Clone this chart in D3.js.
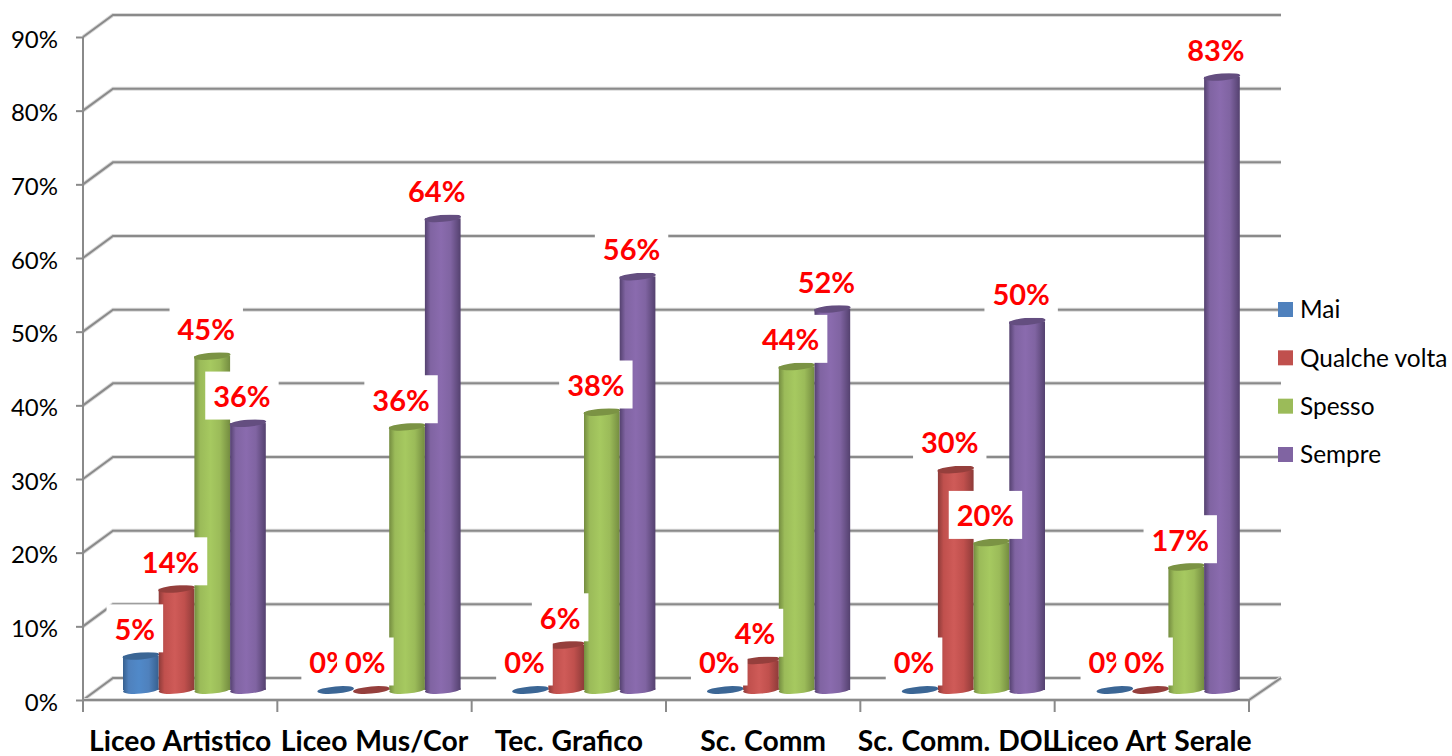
<!DOCTYPE html>
<html><head><meta charset="utf-8">
<script src="https://cdn.jsdelivr.net/npm/d3@7"></script>
<style>html,body{margin:0;padding:0;background:#fff}svg{display:block}text{font-family:Lato,"Noto Sans",sans-serif}</style>
</head><body><svg id="c" width="1452" height="756"></svg>
<script>
const categories = ["Liceo Artistico","Liceo Mus/Cor","Tec. Grafico","Sc. Comm","Sc. Comm. DOL","Liceo Art Serale"];
const seriesNames = ["Mai","Qualche volta","Spesso","Sempre"];
const mai = [4.5,0,0,0,0,0];
const qualcheVolta = [13.6,0,6.0,3.9,29.8,0];
const spesso = [45.2,35.6,37.6,43.8,19.9,16.6];
const sempre = [36.1,63.9,56.0,51.6,49.9,83.1];
const labelsMai = ["5%","0%","0%","0%","0%","0%"];
const labelsQualche = ["14%","0%","6%","4%","30%","0%"];
const labelsSpesso = ["45%","36%","38%","44%","20%","17%"];
const labelsSempre = ["36%","64%","56%","52%","50%","83%"];
const yTicks = [0,10,20,30,40,50,60,70,80,90];
const colors = ["#4f81bd","#c0504d","#9bbb59","#8064a2"];
const edge = ["#37608f","#8e3b39","#748c40","#54416f"];
const mid = ["#5089c9","#cf5b58","#a6c960","#8a6bae"];
const capCol = ["#3b6695","#953f3c","#7b9344","#644e80"];

const svg = d3.select("#c");
const series = [mai,qualcheVolta,spesso,sempre];
const seriesLabels = [labelsMai,labelsQualche,labelsSpesso,labelsSempre];
const x0 = 83, x1 = 1249, yBase = 700, yTop90 = 37, dx = 30, dy = -22;
const y = d3.scaleLinear().domain([0,90]).range([yBase,yTop90]);
const xCat = d3.scaleBand().domain(categories).range([x0,x1]);
const xBar = d3.scaleBand().domain(categories).range([x0,1251.8]);
const xSer = d3.scaleBand().domain(seriesNames).range([40,182.8]);

const defs = svg.append("defs");
colors.forEach((c,i)=>{
  const g = defs.append("linearGradient").attr("id","g"+i).attr("x1",0).attr("x2",1).attr("y1",0).attr("y2",0);
  [[0,edge[i]],[0.16,colors[i]],[0.45,mid[i]],[0.72,colors[i]],[1,edge[i]]].forEach(s=>g.append("stop").attr("offset",s[0]).attr("stop-color",s[1]));
});

const grid = svg.append("g");
const gridCol = "#8a8a8a";
function wallLine(pts){
  const l = d3.line();
  grid.append("path").attr("d",l(pts)).attr("fill","none").attr("stroke","#d9d9d9").attr("stroke-width",4);
  grid.append("path").attr("d",l(pts)).attr("fill","none").attr("stroke",gridCol).attr("stroke-width",2);
}
yTicks.forEach(t=>{
  wallLine([[x0,y(t)],[x0+dx,y(t)+dy],[x1+32,y(t)+dy]]);
});
wallLine([[x1,yBase],[x1+32,yBase+dy]]);
wallLine([[x0,yBase],[x1,yBase]]);

const axisY = d3.axisLeft(y).tickValues(yTicks).tickSize(7).tickPadding(18).tickFormat(d=>d+"%");
const gy = svg.append("g").attr("transform",`translate(${x0},0)`).call(axisY);
gy.selectAll("line").attr("stroke",gridCol).attr("stroke-width",2);
gy.select(".domain").remove();
gy.selectAll("text").attr("font-size",24).attr("fill","#000").attr("dy","0.42em").style("font-family","Lato");
svg.append("line").attr("x1",x0).attr("x2",x0).attr("y1",yTop90).attr("y2",712).attr("stroke",gridCol).attr("stroke-width",2);
const tickXs = categories.map(c=>xCat(c)).concat([x1]);
svg.append("g").selectAll("line").data(tickXs).join("line")
  .attr("x1",d=>d).attr("x2",d=>d).attr("y1",yBase).attr("y2",712).attr("stroke",gridCol).attr("stroke-width",2);

svg.append("g").selectAll("text").data(categories).join("text")
  .attr("x",d=>xCat(d)+xCat.bandwidth()/2).attr("y",750.5)
  .attr("text-anchor","middle").attr("font-weight",700).attr("font-size",28.3).attr("fill","#000")
  .attr("word-spacing",1).text(d=>d);

const bars = svg.append("g");
seriesNames.forEach((name,i)=>{
  categories.forEach((cat,j)=>{
    const v = series[i][j];
    const bx = xBar(cat)+xSer(name), w = xSer.bandwidth();
    const cx = bx+w/2, base = y(0)-10, top = v>0 ? y(v)-11 : base;
    const rot = c => `rotate(-5 ${cx} ${c})`;
    if(v>0){
      bars.append("ellipse").attr("cx",cx).attr("cy",base).attr("rx",w/2).attr("ry",3.6).attr("fill",`url(#g${i})`).attr("transform",rot(base));
      bars.append("rect").attr("x",bx).attr("y",top).attr("width",w).attr("height",base-top).attr("fill",`url(#g${i})`);
    }
    bars.append("ellipse").attr("cx",cx).attr("cy",top).attr("rx",w/2+0.5).attr("ry",3.6).attr("fill",capCol[i]).attr("transform",rot(top));
  });
});

const lab = svg.append("g");
seriesNames.forEach((name,i)=>{
  categories.forEach((cat,j)=>{
    const lx = xBar(cat)+xSer(name)+xSer.bandwidth()/2-6;
    const ly = y(series[i][j])-10-27.5;
    const g = lab.append("g");
    const r = g.append("rect").attr("fill","#fff");
    const t = g.append("text").attr("x",lx).attr("y",ly).attr("dy","0.36em").attr("text-anchor","middle")
      .attr("font-weight",700).attr("font-size",29).attr("fill","#ff0000").text(seriesLabels[i][j]);
    const bw = t.node().getBBox().width;
    r.attr("x",lx-bw/2-8).attr("width",bw+16).attr("y",ly-25).attr("height",48);
  });
});

const legendY = d3.scalePoint().domain(seriesNames).range([309.5,454.5]);
const leg = svg.append("g");
seriesNames.forEach((n,i)=>{
  leg.append("rect").attr("x",1278).attr("y",legendY(n)-7.5).attr("width",15).attr("height",15).attr("fill",colors[i]);
  leg.append("text").attr("x",1300).attr("y",legendY(n)).attr("dy","0.36em").attr("font-size",24.4).attr("fill","#000").text(n);
});
</script></body></html>
